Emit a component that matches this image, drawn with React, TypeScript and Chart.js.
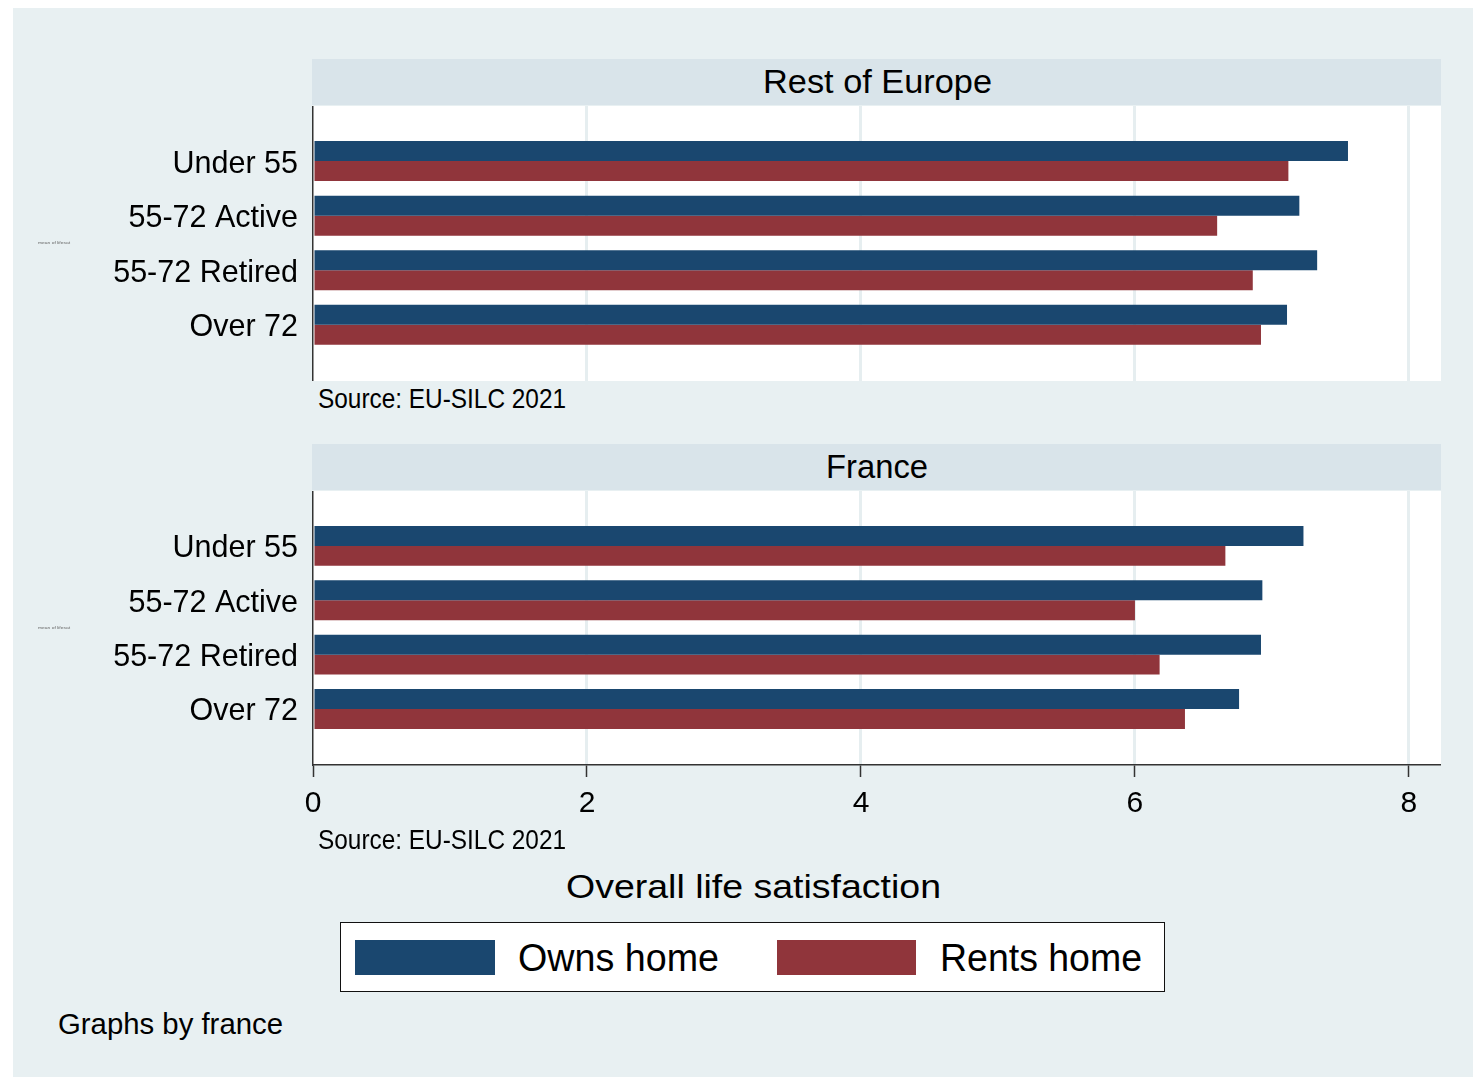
import React, { useEffect, useRef } from 'react';
import { Chart, registerables } from 'chart.js';

Chart.register(...registerables);

// ---------- data ----------
const categories = ['Under 55', '55-72 Active', '55-72 Retired', 'Over 72'];
const xTicks = [0, 2, 4, 6, 8];
const restOwns = [7.555, 7.2, 7.33, 7.11];
const restRents = [7.12, 6.6, 6.86, 6.92];
const franceOwns = [7.23, 6.93, 6.92, 6.76];
const franceRents = [6.66, 6.0, 6.18, 6.365];
const seriesNames = ['Owns home', 'Rents home'];

// ---------- style ----------
const FONT = '"Liberation Sans", Arial, Helvetica, sans-serif';
const NAVY = '#1a476f';
const MAROON = '#90353b';
const BG = '#e8f0f2';
const BAND = '#d9e4ea';
const GRID = '#e6eef0';
const AXIS = '#333333';
const X_MAX = 8.234;
const Y_MIN = -1.01;
const Y_MAX = 4.03;

const bgPlugin = {
  id: 'plotBg',
  beforeDraw(chart: any) {
    const { ctx, chartArea } = chart;
    ctx.save();
    ctx.fillStyle = '#ffffff';
    ctx.fillRect(chartArea.left, chartArea.top, chartArea.right - chartArea.left, chartArea.bottom - chartArea.top);
    ctx.restore();
  },
};

let measureCtx: CanvasRenderingContext2D | null = null;
function measure(text: string, size: number) {
  if (!measureCtx) measureCtx = document.createElement('canvas').getContext('2d');
  measureCtx!.font = `${size}px ${FONT}`;
  return measureCtx!.measureText(text).width;
}

function T({ text, left, width, cy, size, color = '#000' }: any) {
  const w = measure(text, size);
  const sx = w > 0 ? width / w : 1;
  return (
    <div
      style={{
        position: 'absolute',
        left,
        top: cy - 0.49 * size,
        fontSize: size,
        lineHeight: `${size}px`,
        whiteSpace: 'nowrap',
        transform: `scaleX(${sx})`,
        transformOrigin: '0 0',
        color,
        fontFamily: FONT,
      }}
    >
      {text}
    </div>
  );
}

function Panel({ owns, rents, left, top, width, height, axisHeight, showX }: any) {
  const ref = useRef<HTMLCanvasElement>(null);
  useEffect(() => {
    const chart = new Chart(ref.current as HTMLCanvasElement, {
      type: 'bar',
      data: {
        datasets: [
          {
            label: seriesNames[0],
            data: owns.map((v: number, i: number) => ({ x: v, y: i })),
            backgroundColor: NAVY,
            borderWidth: 0,
            categoryPercentage: 0.733,
            barPercentage: 1,
          },
          {
            label: seriesNames[1],
            data: rents.map((v: number, i: number) => ({ x: v, y: i })),
            backgroundColor: MAROON,
            borderWidth: 0,
            categoryPercentage: 0.733,
            barPercentage: 1,
          },
        ],
      } as any,
      options: {
        indexAxis: 'y',
        animation: false,
        responsive: false,
        devicePixelRatio: 1,
        layout: { padding: 0 },
        plugins: { legend: { display: false }, tooltip: { enabled: false } },
        scales: {
          x: {
            type: 'linear',
            min: 0,
            max: X_MAX,
            bounds: 'data',
            afterBuildTicks: (s: any) => {
              s.ticks = xTicks.map((v) => ({ value: v }));
              s.min = 0;
              s.max = X_MAX;
            },
            afterFit: (s: any) => {
              s.height = axisHeight;
              s.paddingLeft = 0;
              s.paddingRight = 0;
            },
            grid: {
              display: true,
              color: (c: any) => (c.tick && c.tick.value === 0 ? 'rgba(0,0,0,0)' : GRID),
              lineWidth: 3,
              drawTicks: showX,
              tickLength: 12,
              tickColor: AXIS,
              tickWidth: 1.5,
            },
            border: { display: showX, color: AXIS, width: 1.5 },
            ticks: {
              display: showX,
              font: { family: FONT, size: 30 },
              color: '#000',
              padding: 9,
              maxRotation: 0,
              autoSkip: false,
              callback: (v: any) => String(v),
            },
          },
          y: {
            type: 'linear',
            reverse: true,
            offset: false,
            bounds: 'data',
            min: Y_MIN,
            max: Y_MAX,
            afterBuildTicks: (s: any) => {
              s.ticks = categories.map((_, i) => ({ value: i }));
              s.min = Y_MIN;
              s.max = Y_MAX;
            },
            afterFit: (s: any) => {
              s.width = 300;
              s.paddingTop = 0;
              s.paddingBottom = 0;
            },
            grid: { display: false, drawTicks: false, offset: false },
            border: { display: true, color: AXIS, width: 1.5 },
            ticks: {
              font: { family: FONT, size: 30.5 },
              color: '#000',
              padding: 15,
              labelOffset: 3,
              autoSkip: false,
              callback: (v: any) => categories[v] ?? '',
            },
          },
        },
      } as any,
      plugins: [bgPlugin],
    });
    return () => chart.destroy();
  }, []);
  return (
    <canvas
      ref={ref}
      width={width}
      height={height}
      style={{ position: 'absolute', left, top, width, height, display: 'block' }}
    />
  );
}

export default function App() {
  return (
    <div
      style={{
        position: 'absolute',
        left: 0,
        top: 0,
        width: 1473,
        height: 1077,
        background: '#ffffff',
        overflow: 'hidden',
        fontFamily: FONT,
      }}
    >
      <div style={{ position: 'absolute', left: 13, top: 8, width: 1460, height: 1069, background: BG }} />

      {/* panel 1 */}
      <div style={{ position: 'absolute', left: 312, top: 59, width: 1129, height: 46, background: BAND }} />
      <T text="Rest of Europe" left={763} width={229} cy={81} size={33} />
      <Panel owns={restOwns} rents={restRents} left={13} top={106} width={1428} height={275} axisHeight={0} showX={false} />
      <T text="Source: EU-SILC 2021" left={318} width={248} cy={399} size={28} />
      <T text="mean of lifesat" left={38} width={32} cy={243} size={4} color="#666" />

      {/* panel 2 */}
      <div style={{ position: 'absolute', left: 312, top: 444, width: 1129, height: 46, background: BAND }} />
      <T text="France" left={826} width={102} cy={466} size={33} />
      <Panel owns={franceOwns} rents={franceRents} left={13} top={491} width={1428} height={340} axisHeight={66} showX={true} />
      <T text="Source: EU-SILC 2021" left={318} width={248} cy={840} size={28} />
      <T text="mean of lifesat" left={38} width={32} cy={628} size={4} color="#666" />

      <T text="Overall life satisfaction" left={566} width={375} cy={886} size={34} />

      {/* legend */}
      <div
        style={{
          position: 'absolute',
          left: 340,
          top: 922,
          width: 825,
          height: 70,
          background: '#ffffff',
          border: '1.5px solid #111',
          boxSizing: 'border-box',
        }}
      />
      <div style={{ position: 'absolute', left: 355, top: 940, width: 140, height: 35, background: NAVY }} />
      <T text={seriesNames[0]} left={518} width={201} cy={957} size={39} />
      <div style={{ position: 'absolute', left: 777, top: 940, width: 139, height: 35, background: MAROON }} />
      <T text={seriesNames[1]} left={940} width={202} cy={957} size={39} />

      <T text="Graphs by france" left={58} width={225} cy={1024} size={30} />
    </div>
  );
}
